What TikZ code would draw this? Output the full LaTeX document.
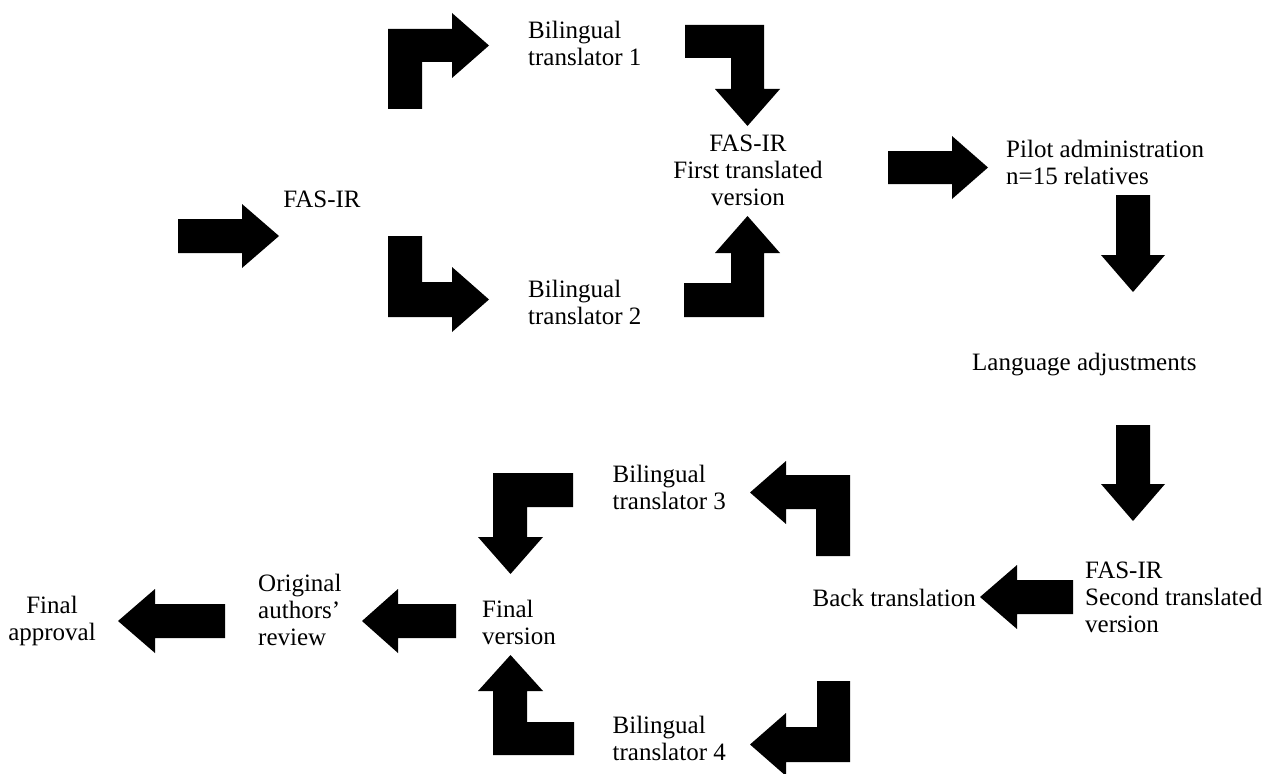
\documentclass[tikz,border=0pt]{standalone}
\usepackage{fontspec}
\setmainfont{Liberation Serif}
\begin{document}
\begin{tikzpicture}[x=1pt,y=-1pt,
  blk/.style={fill=black,draw=none},
  lbl/.style={inner sep=0pt,font=\fontsize{25}{27}\selectfont}]
\useasboundingbox (0,0) rectangle (1281,773);
% texts
\node[lbl] (fas) at (322,199) {FAS-IR};
\node[lbl,align=left,anchor=west] (bt1) at (528,43) {Bilingual\\translator 1};
\node[lbl,align=left,anchor=west] (bt2) at (528,302) {Bilingual\\translator 2};
\node[lbl,align=center] (first) at (748,170) {FAS-IR\\First translated\\version};
\node[lbl,align=left,anchor=west] (pilot) at (1006,162) {Pilot administration\\n=15 relatives};
\node[lbl,anchor=west] (lang) at (972,365) {Language adjustments};
\node[lbl,align=left,anchor=west] (second) at (1085,597) {FAS-IR\\Second translated\\version};
\node[lbl,anchor=east] (back) at (976,598) {Back translation};
\node[lbl,align=left,anchor=east] (bt3) at (726,487) {Bilingual\\translator 3};
\node[lbl,align=left,anchor=east] (bt4) at (726,738) {Bilingual\\translator 4};
\node[lbl,align=left,anchor=west] (final) at (482,622) {Final\\version};
\node[lbl,align=left,anchor=west] (orig) at (258,610) {Original\\authors’\\review};
\node[lbl,align=center] (appr) at (52,621) {Final\\approval};
% block arrows
\fill[blk] (178,219)--(242,219)--(242,204)--(279,236)--(242,268)--(242,253)--(178,253)--cycle;
\fill[blk] (388,109)--(388,29)--(452,29)--(452,13)--(489,45.5)--(452,78)--(452,62)--(422,62)--(422,109)--cycle;
\fill[blk] (388,236)--(422,236)--(422,282)--(452,282)--(452,267)--(489,299.5)--(452,332)--(452,317)--(388,317)--cycle;
\fill[blk] (685,25)--(764,25)--(764,89)--(780,89)--(747.5,126)--(715,89)--(731,89)--(731,58)--(685,58)--cycle;
\fill[blk] (684,317)--(684,283)--(731,283)--(731,253)--(715,253)--(747.5,216)--(780,253)--(764,253)--(764,317)--cycle;
\fill[blk] (888,151)--(952,151)--(952,136)--(988,167.5)--(952,199)--(952,184)--(888,184)--cycle;
\fill[blk] (1116,195)--(1150,195)--(1150,255)--(1165,255)--(1133,292)--(1101,255)--(1116,255)--cycle;
\fill[blk] (1116,425)--(1150,425)--(1150,484)--(1165,484)--(1133,521)--(1101,484)--(1116,484)--cycle;
\fill[blk] (1073,580)--(1073,614)--(1017,614)--(1017,629)--(980,597)--(1017,565)--(1017,580)--cycle;
\fill[blk] (750,492.5)--(786,461)--(786,475)--(850,475)--(850,556)--(816,556)--(816,509)--(786,509)--(786,524)--cycle;
\fill[blk] (817,681)--(850,681)--(850,762)--(786,762)--(786,776)--(750,744.5)--(786,713)--(786,727)--(817,727)--cycle;
\fill[blk] (573,473)--(573,507)--(527,507)--(527,537)--(543,537)--(510.5,574)--(478,537)--(493,537)--(493,473)--cycle;
\fill[blk] (574,755)--(493,755)--(493,691)--(478,691)--(510.5,655)--(543,691)--(527,691)--(527,722)--(574,722)--cycle;
\fill[blk] (456,604)--(456,638)--(398,638)--(398,653)--(362,621)--(398,589)--(398,604)--cycle;
\fill[blk] (225,604)--(225,638)--(155,638)--(155,653)--(118,621)--(155,589)--(155,604)--cycle;
\end{tikzpicture}
\end{document}
